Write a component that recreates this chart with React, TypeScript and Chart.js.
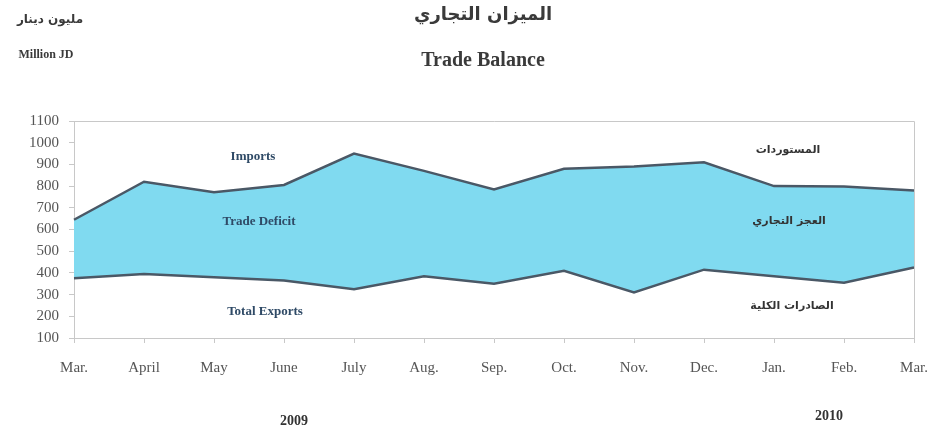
import React, { useEffect, useRef } from "react";
import { Chart, registerables } from "chart.js";

Chart.register(...registerables);

const months = ["Mar.", "April", "May", "June", "July", "Aug.", "Sep.", "Oct.", "Nov.", "Dec.", "Jan.", "Feb.", "Mar."];
const imports = [645, 820, 772, 805, 950, 870, 785, 880, 890, 910, 800, 798, 780];
const exports = [375, 395, 380, 365, 325, 385, 350, 410, 310, 415, 385, 355, 425];
const yTicks = { min: 100, max: 1100, step: 100 };

const textPlugin = {
  id: "texts",
  afterDraw(chart: any) {
    const ctx = chart.ctx;
    const a = chart.chartArea;
    ctx.save();
    ctx.strokeStyle = "#c8c8c8";
    ctx.lineWidth = 1;
    ctx.beginPath();
    ctx.moveTo(a.left, a.top + 0.5);
    ctx.lineTo(a.right + 0.5, a.top + 0.5);
    ctx.lineTo(a.right + 0.5, a.bottom);
    ctx.stroke();

    ctx.textAlign = "center";
    ctx.textBaseline = "middle";
    ctx.fillStyle = "#3a3a3a";
    ctx.font = "bold 18px 'DejaVu Sans'";
    ctx.fillText("الميزان التجاري", 483, 15);
    ctx.font = "bold 20px 'Liberation Serif'";
    ctx.fillText("Trade Balance", 483, 61);
    ctx.font = "bold 12px 'DejaVu Sans'";
    ctx.fillText("مليون دينار", 50, 20);
    ctx.font = "bold 12px 'Liberation Serif'";
    ctx.fillText("Million JD", 46, 55);

    ctx.fillStyle = "#2f4a66";
    ctx.font = "bold 13px 'Liberation Serif'";
    ctx.fillText("Imports", 253, 157);
    ctx.fillText("Trade Deficit", 259, 222);
    ctx.fillText("Total Exports", 265, 312);

    ctx.fillStyle = "#333";
    ctx.font = "bold 11px 'DejaVu Sans'";
    ctx.fillText("المستوردات", 788, 150);
    ctx.fillText("العجز التجاري", 789, 221);
    ctx.fillText("الصادرات الكلية", 792, 306);

    ctx.fillStyle = "#333";
    ctx.font = "bold 14px 'Liberation Serif'";
    ctx.fillText("2009", 294, 421);
    ctx.fillText("2010", 829, 416);
    ctx.restore();
  },
};

export default function App() {
  const ref = useRef<HTMLCanvasElement>(null);
  useEffect(() => {
    if (!ref.current) return;
    const chart = new Chart(ref.current, {
      type: "line",
      data: {
        labels: months,
        datasets: [
          {
            label: "Total Exports",
            data: exports,
            borderColor: "#4a5866",
            borderWidth: 2.5,
            pointRadius: 0,
            tension: 0,
            fill: false,
          },
          {
            label: "Imports",
            data: imports,
            borderColor: "#4a5866",
            borderWidth: 2.5,
            pointRadius: 0,
            tension: 0,
            fill: "-1",
            backgroundColor: "#80daf0",
          },
        ],
      },
      options: {
        animation: false,
        responsive: false,
        layout: { padding: { left: 8, right: 22, top: 121, bottom: 59 } },
        plugins: { legend: { display: false }, tooltip: { enabled: false }, title: { display: false } },
        scales: {
          x: {
            offset: false,
            afterFit: (s: any) => { s.height = 40; s.paddingLeft = 0; s.paddingRight = 0; },
            grid: { drawOnChartArea: false, drawTicks: true, tickLength: 5, color: "#c8c8c8" },
            border: { color: "#c8c8c8" },
            ticks: { color: "#555", font: { family: "'Liberation Serif'", size: 15 }, padding: 16, maxRotation: 0, autoSkip: false },
          },
          y: {
            min: yTicks.min,
            max: yTicks.max,
            afterFit: (s: any) => { s.width = 66; s.paddingTop = 0; s.paddingBottom = 0; },
            grid: { drawOnChartArea: false, drawTicks: true, tickLength: 5, color: "#c8c8c8" },
            border: { color: "#c8c8c8" },
            ticks: {
              stepSize: yTicks.step,
              color: "#555",
              font: { family: "'Liberation Serif'", size: 15 },
              padding: 10,
              callback: (v: any) => String(v),
            },
          },
        },
      },
      plugins: [textPlugin],
    });
    return () => chart.destroy();
  }, []);
  return (
    <div style={{ position: "absolute", left: 0, top: 0, width: 936, height: 437, background: "#fff" }}>
      <canvas ref={ref} width={936} height={437} />
    </div>
  );
}
